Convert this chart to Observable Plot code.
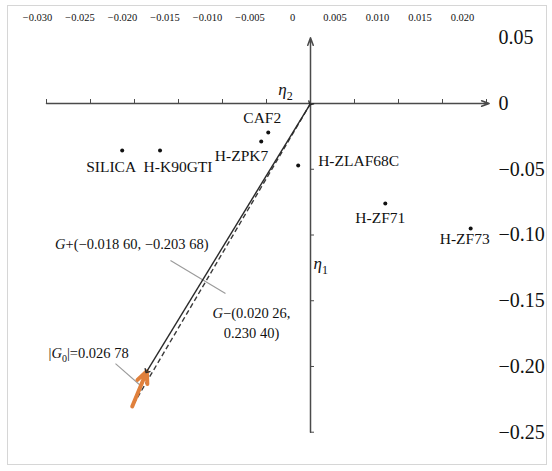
<!DOCTYPE html>
<html><head><meta charset="utf-8">
<script src="https://cdn.jsdelivr.net/npm/d3@7"></script>
<script src="https://cdn.jsdelivr.net/npm/@observablehq/plot@0.6"></script>
<style>
body{margin:0;background:#fff;}
#wrap{position:relative;width:552px;height:471px;overflow:hidden;background:#fff;}
#frame{position:absolute;left:7px;top:5px;width:540px;height:460px;border:1.5px solid #d6d6d6;box-sizing:border-box;}
#wrap svg{position:absolute;left:0;top:0;font-family:"Liberation Serif","Times New Roman",serif !important;}
#wrap svg text{font-family:"Liberation Serif","Times New Roman",serif !important;}
</style></head><body><div id="wrap"><div id="frame"></div></div>
<script>
// ---- data ----
const glassNames = ["CAF2", "H-ZPK7", "SILICA", "H-K90GTI", "H-ZLAF68C", "H-ZF71", "H-ZF73"];
const eta2Values = [-0.0048, -0.0056, -0.0214, -0.0171, -0.0014, 0.0085, 0.0182];
const eta1Values = [-0.0220, -0.0289, -0.0357, -0.0357, -0.0471, -0.0760, -0.0950];

const topTickValues = [-0.030, -0.025, -0.020, -0.015, -0.010, -0.005, 0, 0.005, 0.010, 0.015, 0.020];
const rightTickValues = [0.05, 0, -0.05, -0.10, -0.15, -0.20, -0.25];
const axisTickX = [-0.030, -0.025, -0.020, -0.015, -0.010, -0.005, 0.005, 0.010, 0.015, 0.020];
const axisTickY = [-0.05, -0.10, -0.15, -0.20, -0.25];

const gPlus = {x: -0.01860, y: -0.20368};
const gMinusLabel = {x: 0.02026, y: 0.23040};
const gMinus = {x: -0.02026, y: -0.23040};   // drawn in the opposite (negative) direction
const g0Length = "0.026 78";

const axisH = {x1: -0.030, x2: 0.0203, y1: 0, y2: 0};
const axisV = {x1: 0, x2: 0, y1: -0.25, y2: 0.05};

// annotation anchors (data units)
const leaderLines = [
  {x1: -0.01591, y1: -0.1194, x2: -0.00966, y2: -0.1445},
  {x1: -0.02216, y1: -0.1978, x2: -0.01932, y2: -0.2145}
];
const gPlusText = {x: -0.01159, y: -0.1072, text: "G+(−0.018 60, −0.203 68)"};
const gMinusText = {x: -0.0067, y: -0.1582, text: "G−(0.020 26,\n0.230 40)"};
const g0Text = {x: -0.02977, y: -0.1902, text: "|G0|=" + g0Length};
const eta1Text = {x: 0, y: -0.1217, text: "η1"};
const eta2Text = {x: 0, y: 0, text: "η2"};

const glasses = glassNames.map((name, i) => ({name, x: eta2Values[i], y: eta1Values[i]}));

// label placement (style, not data)
const labelStyle = {
  "CAF2": {dx: -6, dy: -14, textAnchor: "middle"},
  "H-ZPK7": {dx: 7, dy: 15, textAnchor: "end"},
  "SILICA": {dx: -11, dy: 17, textAnchor: "middle"},
  "H-K90GTI": {dx: 18, dy: 17, textAnchor: "middle"},
  "H-ZLAF68C": {dx: 20, dy: -4, textAnchor: "start"},
  "H-ZF71": {dx: -5, dy: 15, textAnchor: "middle"},
  "H-ZF73": {dx: -6, dy: 11, textAnchor: "middle"}
};

const fmt = (digits) => (d) => d === 0 ? "0" : (d < 0 ? "−" : "") + Math.abs(d).toFixed(digits);
const axisColor = "#4a4a4a";
const font = "'Liberation Serif', 'Times New Roman', serif";

const mainPlot = Plot.plot({
  width: 552, height: 471,
  marginLeft: 2, marginRight: 22, marginTop: 11, marginBottom: 13,
  x: {domain: [-0.035, 0.025], axis: null},
  y: {domain: [-0.27, 0.07], axis: null},
  style: {fontFamily: font, background: "transparent", color: "#111"},
  marks: [
    Plot.axisY(rightTickValues, {anchor: "right", tickSize: 0, tickPadding: 0, dx: -32, textAnchor: "start", fontSize: 20, tickFormat: fmt(2), fill: "#111"}),
    // axes
    Plot.arrow([axisH], {x1: "x1", y1: "y1", x2: "x2", y2: "y2", stroke: axisColor, strokeWidth: 1.5, headLength: 8, headAngle: 40}),
    Plot.arrow([axisV], {x1: "x1", y1: "y1", x2: "x2", y2: "y2", stroke: axisColor, strokeWidth: 1.5, headLength: 8, headAngle: 40}),
    Plot.ruleX(axisTickX, {x: d => d, y1: 0, y2: 0, insetTop: -4, insetBottom: 0, stroke: axisColor, strokeWidth: 1}),
    Plot.ruleY(axisTickY, {y: d => d, x1: 0, x2: 0, insetRight: -4, insetLeft: 0, stroke: axisColor, strokeWidth: 1}),
    // leader lines
    Plot.link(leaderLines, {x1: "x1", y1: "y1", x2: "x2", y2: "y2", stroke: "#9a9a9a", strokeWidth: 1.1}),
    // vectors
    Plot.link([gMinus], {x1: 0, y1: 0, x2: "x", y2: "y", stroke: "#3a3a3a", strokeWidth: 1.4, strokeDasharray: "5,3"}),
    Plot.arrow([{a: gMinus, b: gPlus}], {x1: d => d.a.x, y1: d => d.a.y, x2: d => d.b.x, y2: d => d.b.y, stroke: "#e0803c", strokeWidth: 4, headLength: 6, headAngle: 50, strokeLinecap: "round"}),
    Plot.link([gPlus], {x1: 0, y1: 0, x2: "x", y2: "y", stroke: "#2a2a2a", strokeWidth: 1.4, markerStart: "arrow", markerEnd: "arrow"}),
    // glass points
    Plot.dot(glasses, {x: "x", y: "y", r: 2, fill: "#111"}),
    ...glassNames.map(n => Plot.text(glasses.filter(g => g.name === n), {x: "x", y: "y", text: "name", fontSize: 15.5, fill: "#111", ...labelStyle[n]})),
    // annotations
    Plot.text([gPlusText], {x: "x", y: "y", text: "text", textAnchor: "end", fontSize: 14.5, fill: "#111"}),
    Plot.text([gMinusText], {x: "x", y: "y", text: "text", textAnchor: "middle", lineAnchor: "middle", lineHeight: 1.4, dy: 10, fontSize: 14.5, fill: "#111"}),
    Plot.text([g0Text], {x: "x", y: "y", text: "text", textAnchor: "start", fontSize: 14.5, fill: "#111"}),
    Plot.text([eta1Text], {x: "x", y: "y", text: "text", textAnchor: "start", dx: 3, fontSize: 17, fill: "#111"}),
    Plot.text([eta2Text], {x: "x", y: "y", text: "text", textAnchor: "middle", dx: -25, dy: -14, fontSize: 17, fill: "#111"})
  ]
});

const topStrip = Plot.plot({
  width: 552, height: 30,
  marginLeft: 37, marginRight: 90, marginTop: 22, marginBottom: 0,
  x: {domain: [-0.030, 0.020]},
  style: {fontFamily: font, background: "transparent", color: "#111"},
  marks: [
    Plot.axisX(topTickValues, {anchor: "top", tickSize: 0, tickPadding: 2, fontSize: 10.5, tickFormat: fmt(3), fill: "#111"})
  ]
});

// rich text: italic G / η and subscripts
function rich(svg) {
  const NS = "http://www.w3.org/2000/svg";
  const mk = (parent, txt, attrs = {}) => {
    const t = document.createElementNS(NS, "tspan");
    t.textContent = txt;
    for (const k in attrs) t.setAttribute(k, attrs[k]);
    parent.appendChild(t);
  };
  svg.querySelectorAll("text, tspan").forEach(el => {
    if (el.children.length) return;
    const s = el.textContent;
    if (/^G[+−]/.test(s)) {
      el.textContent = "";
      mk(el, "G", {"font-style": "italic"});
      mk(el, s.slice(1));
    } else if (s.startsWith("|G0|")) {
      el.textContent = "";
      mk(el, "|");
      mk(el, "G", {"font-style": "italic"});
      mk(el, "0", {"font-size": "10px", "dy": "4"});
      mk(el, s.slice(3), {"dy": "-4"});
    } else if (s === "η1" || s === "η2") {
      el.textContent = "";
      mk(el, "η", {"font-style": "italic"});
      mk(el, s[1], {"font-size": "12px", "dy": "5"});
    }
  });
}
rich(mainPlot);
const wrap = document.getElementById("wrap");
wrap.appendChild(mainPlot);
wrap.appendChild(topStrip);
</script>
</body></html>
